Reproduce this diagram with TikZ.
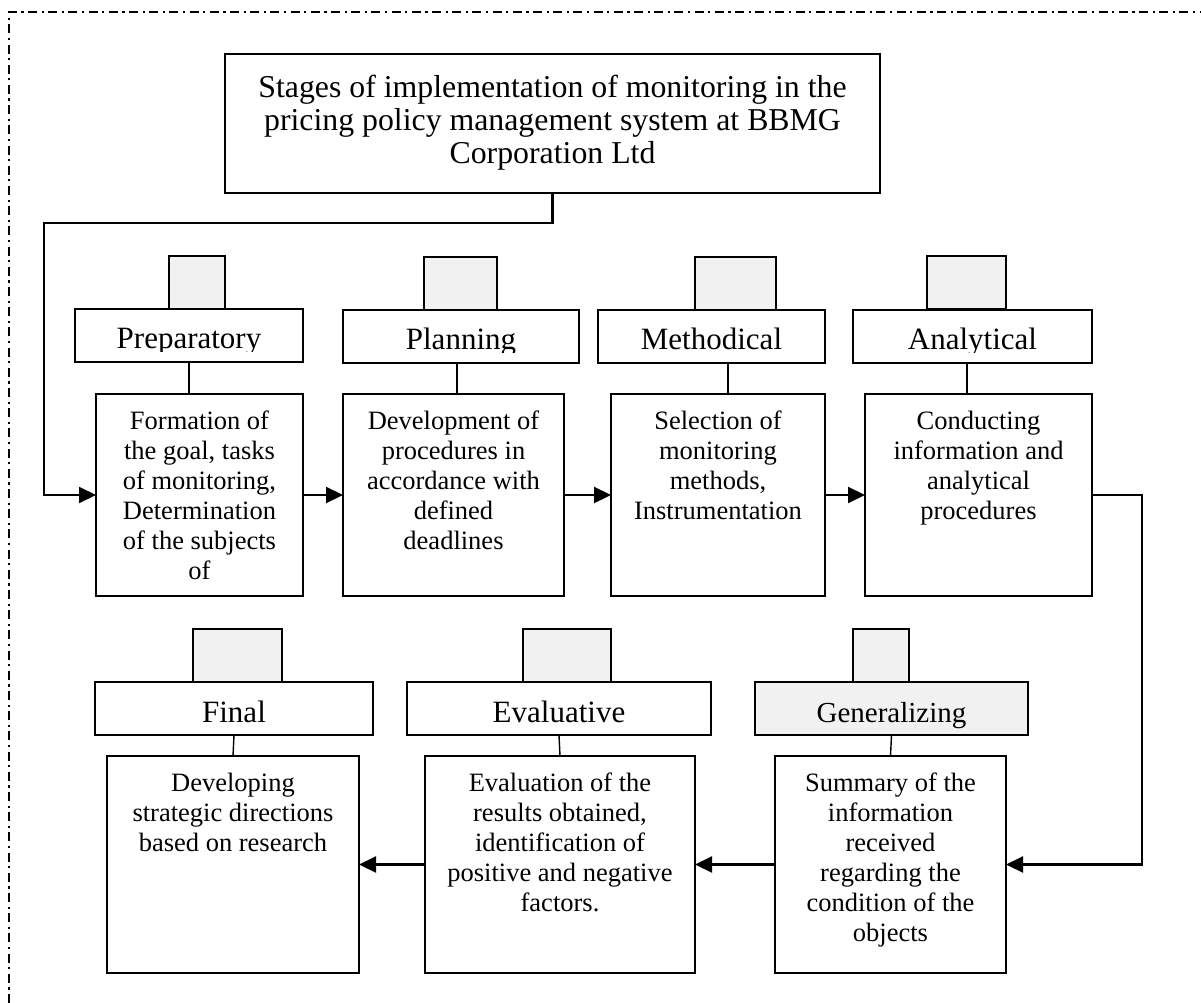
\documentclass[tikz,border=0pt]{standalone}
\usepackage{fontspec}
\setmainfont{Liberation Serif}
\usetikzlibrary{arrows.meta}
\definecolor{boxgray}{HTML}{F1F1F1}
\begin{document}
\begin{tikzpicture}[x=1pt,y=-1pt,
  box/.style={draw, line width=2pt, inner sep=0pt, outer sep=0pt, anchor=north west},
  graybox/.style={box, fill=boxgray},
  bodytext/.style={anchor=north, align=center, inner sep=0pt, font=\fontsize{26.5}{30}\selectfont},
  titletext/.style={anchor=north, align=center, inner sep=0pt, font=\fontsize{31.8}{33}\selectfont},
  lbltext/.style={anchor=base, inner sep=0pt, font=\fontsize{31}{34}\selectfont},
  conn/.style={line width=1.4pt},
  arr/.style={line width=2.2pt, -{Triangle[length=17pt,width=16pt]}},
  frame/.style={line width=1.6pt, dash pattern=on 9pt off 4.5pt on 2.2pt off 4.5pt}
]
\useasboundingbox (0,0) rectangle (1201,1003);
% outer dash-dot frame
\draw[frame] (9,1003) -- (9,12) -- (1201,12);

% title
\node[box, minimum width=655pt, minimum height=139pt] (title) at (225,54) {};
\node[titletext] (titletxt) at ([yshift=-20.5pt]title.north)
  {Stages of implementation of monitoring in the\\pricing policy management system at BBMG\\Corporation Ltd};

% ---------- top row ----------
\node[graybox, minimum width=56pt, minimum height=53pt] (g1) at (169,256) {};
\node[graybox, minimum width=73pt, minimum height=53pt] (g2) at (424,257) {};
\node[graybox, minimum width=81pt, minimum height=53pt] (g3) at (695,257) {};
\node[graybox, minimum width=79pt, minimum height=53pt] (g4) at (927,256) {};

\node[box, minimum width=228pt, minimum height=53pt] (l1) at (75,309) {};
\node[box, minimum width=236pt, minimum height=53pt] (l2) at (343,310) {};
\node[box, minimum width=227pt, minimum height=53pt] (l3) at (598,310) {};
\node[box, minimum width=239pt, minimum height=53pt] (l4) at (853,310) {};

\begin{scope}
\clip (l1.north west) rectangle ([yshift=10.5pt]l1.south east);
\node[lbltext] (t1) at ([yshift=-39pt]l1.north) {Preparatory};
\end{scope}
\begin{scope}
\clip (l2.north west) rectangle ([yshift=10.5pt]l2.south east);
\node[lbltext] (t2) at ([yshift=-39pt]l2.north) {Planning};
\end{scope}
\begin{scope}
\clip (l3.north west) rectangle ([yshift=10.5pt]l3.south east);
\node[lbltext] (t3) at ([yshift=-39pt]l3.north) {Methodical};
\end{scope}
\begin{scope}
\clip (l4.north west) rectangle ([yshift=10.5pt]l4.south east);
\node[lbltext] (t4) at ([yshift=-39pt]l4.north) {Analytical};
\end{scope}

\node[box, minimum width=207pt, minimum height=202pt] (b1) at (96,394) {};
\node[box, minimum width=221pt, minimum height=202pt] (b2) at (343,394) {};
\node[box, minimum width=214pt, minimum height=202pt] (b3) at (611,394) {};
\node[box, minimum width=227pt, minimum height=202pt] (b4) at (865,394) {};

\node[bodytext] (x1) at ([yshift=-17pt]b1.north)
  {Formation of\\the goal, tasks\\of monitoring,\\Determination\\of the subjects\\of};
\node[bodytext] (x2) at ([yshift=-17pt]b2.north)
  {Development of\\procedures in\\accordance with\\defined\\deadlines};
\node[bodytext] (x3) at ([yshift=-17pt]b3.north)
  {Selection of\\monitoring\\methods,\\Instrumentation};
\node[bodytext] (x4) at ([yshift=-17pt]b4.north)
  {Conducting\\information and\\analytical\\procedures};

\draw[conn] (l1.south) -- ([xshift=-10.5pt]b1.north);
\draw[conn] ([xshift=-4pt]l2.south) -- ([xshift=3.5pt]b2.north);
\draw[conn] ([xshift=16.5pt]l3.south) -- ([xshift=10pt]b3.north);
\draw[conn] ([xshift=-5.5pt]l4.south) -- ([xshift=-11.5pt]b4.north);

% ---------- bottom row ----------
\node[graybox, minimum width=89pt, minimum height=53pt] (g5) at (193,629) {};
\node[graybox, minimum width=88pt, minimum height=53pt] (g6) at (523,629) {};
\node[graybox, minimum width=56pt, minimum height=53pt] (g7) at (853,629) {};

\node[box, minimum width=278pt, minimum height=53pt] (l5) at (95,682) {};
\node[box, minimum width=304pt, minimum height=53pt] (l6) at (407,682) {};
\node[graybox, minimum width=273pt, minimum height=53pt] (l7) at (755,682) {};

\node[lbltext] (t5) at ([yshift=-40pt]l5.north) {Final};
\node[lbltext] (t6) at ([yshift=-40pt]l6.north) {Evaluative};
\node[lbltext, font=\fontsize{29}{32}\selectfont] (t7) at ([yshift=-40pt]l7.north) {Generalizing};

\node[box, minimum width=252pt, minimum height=217pt] (fb) at (107,756) {};
\node[box, minimum width=270pt, minimum height=217pt] (eb) at (425,756) {};
\node[box, minimum width=231pt, minimum height=217pt] (gb) at (775,756) {};

\node[bodytext] (x5) at ([yshift=-17pt]fb.north)
  {Developing\\strategic directions\\based on research};
\node[bodytext] (x6) at ([yshift=-17pt]eb.north)
  {Evaluation of the\\results obtained,\\identification of\\positive and negative\\factors.};
\node[bodytext] (x7) at ([yshift=-17pt]gb.north)
  {Summary of the\\information\\received\\regarding the\\condition of the\\objects};

\draw[conn] (l5.south) -- (fb.north);
\draw[conn] (l6.south) -- (eb.north);
\draw[conn] (l7.south) -- (gb.north);

% ---------- flow connectors ----------
\coordinate (rl) at (44,223);
\coordinate (rr) at (1142,495);
\draw[arr] (title.south) |- (rl) |- (b1.west);
\draw[arr] (b1.east) -- (b2.west);
\draw[arr] (b2.east) -- (b3.west);
\draw[arr] (b3.east) -- (b4.west);
\draw[arr] (b4.east) -- (rr) |- (gb.east);
\draw[arr] (gb.west) -- (eb.east);
\draw[arr] (eb.west) -- (fb.east);
\end{tikzpicture}
\end{document}
